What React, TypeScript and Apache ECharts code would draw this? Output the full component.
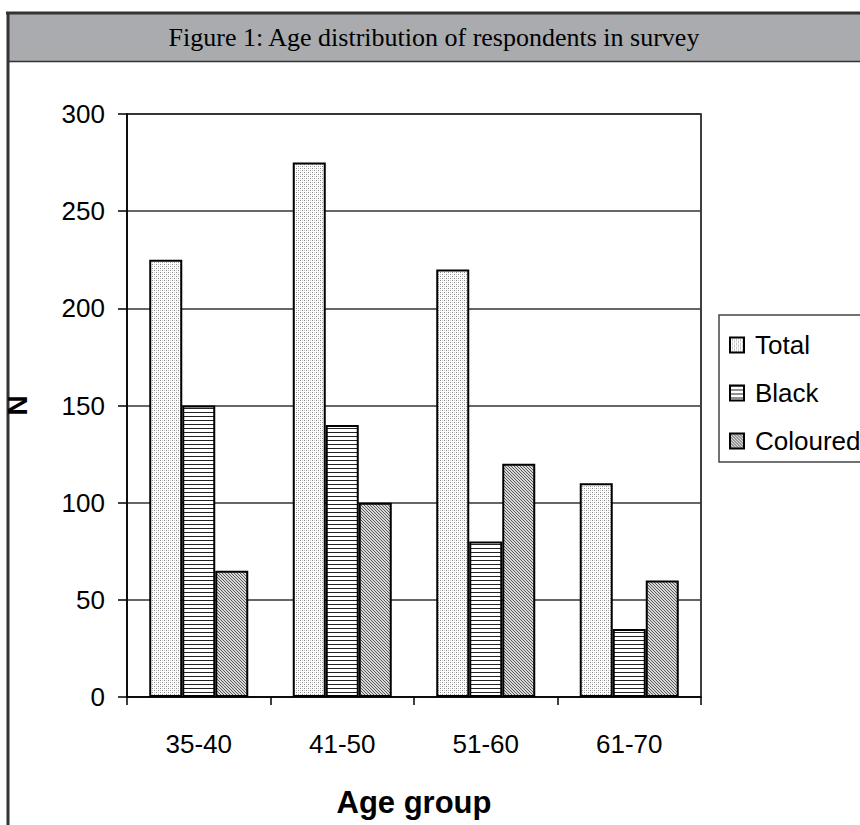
import React, { useEffect, useRef } from "react";
import * as echarts from "echarts";

const categories = ["35-40", "41-50", "51-60", "61-70"];
const seriesNames = ["Total", "Black", "Coloured"];
const totalValues = [225, 275, 220, 110];
const blackValues = [150, 140, 80, 35];
const colouredValues = [65, 100, 120, 60];
const yTicks = { min: 0, max: 300, interval: 50 };
const titleText = "Figure 1: Age distribution of respondents in survey";
const xAxisName = "Age group";
const yAxisName = "N";

function makePattern(w: number, h: number, draw: (ctx: CanvasRenderingContext2D) => void) {
  const c = document.createElement("canvas");
  c.width = w;
  c.height = h;
  const ctx = c.getContext("2d") as CanvasRenderingContext2D;
  ctx.fillStyle = "#ffffff";
  ctx.fillRect(0, 0, w, h);
  draw(ctx);
  return { image: c.toDataURL(), repeat: "repeat", imageWidth: w, imageHeight: h };
}

export default function App() {
  const ref = useRef<HTMLDivElement>(null);
  useEffect(() => {
    if (!ref.current) return;
    const chart = echarts.init(ref.current, undefined, { renderer: "svg" });

    const dotPattern = makePattern(4, 4, (ctx) => {
      ctx.fillStyle = "#8a8a8a";
      ctx.fillRect(0, 0, 1, 1);
      ctx.fillRect(2, 2, 1, 1);
      ctx.fillStyle = "#c8c8c8";
      ctx.fillRect(2, 0, 1, 1);
      ctx.fillRect(0, 2, 1, 1);
    });
    const hLinePattern = makePattern(4, 4, (ctx) => {
      ctx.fillStyle = "#222222";
      ctx.fillRect(0, 0, 4, 1);
    });
    const diagPattern = makePattern(3, 3, (ctx) => {
      ctx.fillStyle = "#d8d8d8";
      ctx.fillRect(0, 0, 3, 3);
      ctx.fillStyle = "#5a5a5a";
      ctx.fillRect(0, 0, 1, 1);
      ctx.fillRect(1, 1, 1, 1);
      ctx.fillRect(2, 2, 1, 1);
    });

    const patterns = [dotPattern, hLinePattern, diagPattern];
    const values = [totalValues, blackValues, colouredValues];
    const sansFont = "Liberation Sans, Arial, sans-serif";

    chart.setOption({
      animation: false,
      backgroundColor: "#ffffff",
      grid: {
        left: 127,
        right: 159,
        top: 114,
        bottom: 128,
        containLabel: false,
        outerBoundsMode: "none",
        show: true,
        borderColor: "#000000",
        borderWidth: 1.5,
        backgroundColor: "transparent",
      },
      legend: {
        orient: "vertical",
        left: 719,
        top: 315,
        data: seriesNames,
        icon: "rect",
        itemWidth: 14,
        itemHeight: 15,
        itemGap: 18,
        padding: [15, 60, 6, 10],
        borderColor: "#444444",
        borderWidth: 1.5,
        backgroundColor: "#ffffff",
        textStyle: {
          fontFamily: sansFont,
          fontSize: 26,
          color: "#000000",
          lineHeight: 30,
          padding: [0, 0, 0, 6],
        },
      },
      xAxis: {
        type: "category",
        data: categories,
        name: xAxisName,
        nameLocation: "middle",
        nameGap: 90,
        nameTextStyle: {
          fontFamily: sansFont,
          fontSize: 31,
          fontWeight: "bold",
          color: "#000000",
        },
        axisLine: { lineStyle: { color: "#000000", width: 1.5 } },
        axisTick: { show: true, inside: false, length: 8, lineStyle: { color: "#000000", width: 1.5 } },
        axisLabel: { fontFamily: sansFont, fontSize: 26, color: "#000000", margin: 34 },
      },
      yAxis: {
        type: "value",
        min: yTicks.min,
        max: yTicks.max,
        interval: yTicks.interval,
        name: yAxisName,
        nameLocation: "middle",
        nameGap: 96,
        nameRotate: 90,
        nameTextStyle: {
          fontFamily: sansFont,
          fontSize: 28,
          fontWeight: "bold",
          color: "#000000",
        },
        axisLine: { show: true, lineStyle: { color: "#000000", width: 1.5 } },
        axisTick: { show: true, inside: false, length: 9, lineStyle: { color: "#000000", width: 1.5 } },
        axisLabel: { fontFamily: sansFont, fontSize: 26, color: "#000000", margin: 22 },
        splitLine: { show: true, lineStyle: { color: "#333333", width: 1.5 } },
      },
      series: seriesNames.map((name, i) => ({
        name,
        type: "bar",
        data: values[i],
        barGap: "0%",
        barCategoryGap: "31%",
        itemStyle: {
          color: patterns[i],
          borderColor: "#000000",
          borderWidth: 2,
        },
      })),
      graphic: [
        {
          type: "rect",
          shape: { x: 9, y: 14, width: 851, height: 47 },
          style: { fill: "#a9abae" },
          z: -1,
        },
        {
          type: "line",
          shape: { x1: 6, y1: 13, x2: 860, y2: 13 },
          style: { stroke: "#333333", lineWidth: 3 },
        },
        {
          type: "line",
          shape: { x1: 8, y1: 12, x2: 8, y2: 825 },
          style: { stroke: "#333333", lineWidth: 3 },
        },
        {
          type: "line",
          shape: { x1: 8, y1: 61.5, x2: 860, y2: 61.5 },
          style: { stroke: "#333333", lineWidth: 1.5 },
        },
        {
          type: "text",
          x: 434,
          y: 37,
          style: {
            text: titleText,
            fontFamily: "Liberation Serif, Times New Roman, serif",
            fontSize: 26,
            fill: "#000000",
            align: "center",
            verticalAlign: "middle",
          },
        },
      ],
    });
    return () => chart.dispose();
  }, []);
  return (
    <div
      ref={ref}
      style={{ position: "absolute", left: 0, top: 0, width: 860, height: 825 }}
    />
  );
}
